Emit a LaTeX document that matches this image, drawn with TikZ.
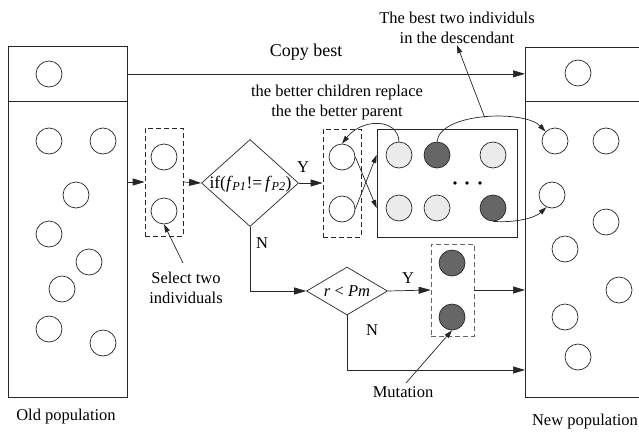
\documentclass[tikz,border=0pt]{standalone}
\usepackage{fontspec}
\setmainfont{Liberation Serif}
\usetikzlibrary{shapes.geometric,arrows.meta,calc}
\begin{document}
\begin{tikzpicture}[x=1pt,y=-1pt,
  font=\fontsize{16.5}{20}\selectfont,
  line width=0.7pt, draw=black!85,
  ind/.style={circle,draw=black!85,minimum size=26pt,inner sep=0pt},
  light/.style={ind,fill=black!8},
  dark/.style={ind,fill=black!60},
  pbox/.style={draw=black!85,anchor=north west,inner sep=0pt},
  dbox/.style={draw=black!85,dash pattern=on 5pt off 3pt,minimum width=38pt,minimum height=108pt,inner sep=0pt},
  diam/.style={diamond,draw=black!85,inner sep=0pt},
  lbl/.style={align=center,inner sep=1pt},
  arr/.style={-{Triangle[length=12pt,width=7pt]}},
  carr/.style={-{Triangle[length=8pt,width=5pt]}}]
\clip (0,0) rectangle (639,434);
% old population
\node[pbox,minimum width=119pt,minimum height=55pt] (oldtop) at (8,46) {};
\node[pbox,minimum width=119pt,minimum height=296pt] (oldbot) at (8,101) {};
\node[ind] (o0) at (49,74) {};
\node[ind] (o1) at (49,141) {};
\node[ind] (o2) at (103,141) {};
\node[ind] (o3) at (76,195) {};
\node[ind] (o4) at (49,234) {};
\node[ind] (o5) at (89,262) {};
\node[ind] (o6) at (62,289) {};
\node[ind] (o7) at (49,329) {};
\node[ind] (o8) at (103,343) {};
\node[lbl] (oldlbl) at (66,417) {Old population};
% new population
\node[pbox,minimum width=120pt,minimum height=54pt] (newtop) at (525,47) {};
\node[pbox,minimum width=120pt,minimum height=296pt] (newbot) at (525,101) {};
\node[ind] (n0) at (578,73) {};
\node[ind] (n1) at (555,141) {};
\node[ind] (n2) at (606,141) {};
\node[ind] (n3) at (552,195) {};
\node[ind] (n4) at (606,222) {};
\node[ind] (n5) at (565,249) {};
\node[ind] (n6) at (619,290) {};
\node[ind] (n7) at (565,317) {};
\node[ind] (n8) at (578,357) {};
\node[lbl] (newlbl) at (585,422) {New population};
% copy best
\draw[arr] (oldtop.east) -- (oldtop.east -| newtop.west);
\node[lbl,font=\fontsize{18}{20}\selectfont] (copylbl) at (306,52) {Copy best};
% selection
\node[dbox] (sel) at (164,182) {};
\node[ind] (s1) at (164,157) {};
\node[ind] (s2) at (164,211) {};
\draw[arr] (sel.west -| oldbot.east) -- (sel.west);
\node[lbl] (sellbl) at (186,288) {Select two\\individuals};
\draw[carr] (183,263) -- (s2.south);
% diamond 1
\node[diam,minimum width=97pt,minimum height=87pt] (d1) at (250,183) {};
\node[inner sep=0pt,font=\fontsize{17.5}{20}\selectfont] (d1t) at (250.5,184) {if(\textit{f}\textsubscript{\kern-0.5pt\textit{P1}}!=\,\textit{f}\textsubscript{\kern-0.5pt\textit{P2}})};
\draw[arr] (sel.east) -- (d1.west);
\node[lbl] (y1) at (303,167) {Y};
% parents
\node[dbox] (par) at (342,183) {};
\node[ind] (p1) at (342,157) {};
\node[ind] (p2) at (342,209) {};
\draw[arr] (d1.east) -- (par.west);
% children
\node[draw=black!85,minimum width=140pt,minimum height=108pt,inner sep=0pt] (cbox) at (447,183) {};
\node[light] (c1) at (399,155) {};
\node[dark] (c2) at (437,155) {};
\node[light] (c3) at (493,155) {};
\node[light] (c4) at (399,208) {};
\node[light] (c5) at (437,208) {};
\node[dark] (c6) at (493,208) {};
\node[circle,fill=black,inner sep=1.4pt] (dt1) at (455,183) {};
\node[circle,fill=black,inner sep=1.4pt] (dt2) at (467,183) {};
\node[circle,fill=black,inner sep=1.4pt] (dt3) at (480,183) {};
\draw[carr] (p1.east) -- (cbox.west |- c4.center);
\draw[carr] (p2.east) -- (cbox.west |- c1.center);
\draw[carr] (c1.north) .. controls (398,118) and (362,118) .. (p1.north);
\node[lbl] (replbl) at (337,103) {the better children replace\\the the better parent};
\draw[carr] (c2.north) .. controls (440,112) and (525,110) .. coordinate[pos=0.5] (cp) (n1.north west);
\draw[carr] (c6.south) .. controls (515,223) and (535,218) .. (n3.-115);
\node[lbl] (bestlbl) at (457,28) {The best two individuls\\in the descendant};
\draw[carr] (cp) -- (bestlbl.south);
% diamond 2
\node[diam,minimum width=81pt,minimum height=48pt] (d2) at (347,291) {};
\node[inner sep=0pt] (d2t) at (347,291) {\textit{r} < \textit{Pm}};
\draw[arr] (d1.south) -- (d1.south |- d2.west) -- (d2.west);
\node[lbl] (n1lbl) at (262,243) {N};
% mutation
\node[dbox,draw=black!60,minimum width=43pt,minimum height=92pt] (mbox) at (452.5,290) {};
\node[dark] (m1) at (452,263) {};
\node[dark] (m2) at (452,317) {};
\draw[arr] (d2.east) -- (mbox.west);
\node[lbl] (y2) at (408,278) {Y};
\draw[arr] (mbox.east) -- (mbox.east -| newbot.west);
\coordinate (nb) at (347,370);
\draw[arr] (d2.south) -- (nb) -- (nb -| newbot.west);
\node[lbl] (n2lbl) at (372,330) {N};
\node[lbl] (mutlbl) at (403,392) {Mutation};
\draw[carr] (406,383) -- (m2.south);
\end{tikzpicture}
\end{document}
